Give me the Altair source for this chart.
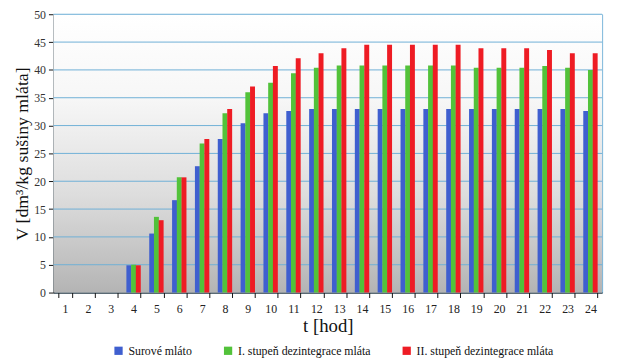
import altair as alt
import pandas as pd

hours = list(range(1, 25))
series_names = ["Surové mláto", "I. stupeň dezintegrace mláta", "II. stupeň dezintegrace mláta"]
surove = [0, 0, 0, 4.9, 10.6, 16.6, 22.7, 27.6, 30.4, 32.2, 32.6, 33.0, 33.0, 33.0, 33.0, 33.0, 33.0, 33.0, 33.0, 33.0, 33.0, 33.0, 33.0, 32.6]
stupen1 = [0, 0, 0, 5.0, 13.6, 20.7, 26.8, 32.2, 36.0, 37.7, 39.4, 40.4, 40.8, 40.8, 40.8, 40.8, 40.8, 40.8, 40.4, 40.4, 40.4, 40.7, 40.4, 40.0]
stupen2 = [0, 0, 0, 4.9, 13.0, 20.7, 27.6, 33.0, 37.0, 40.7, 42.1, 43.0, 43.9, 44.5, 44.5, 44.5, 44.5, 44.5, 43.9, 43.9, 43.9, 43.6, 43.0, 43.0]
colors = ["#3f5fcf", "#52c23a", "#ee1c24"]
y_ticks = list(range(0, 51, 5))

rows = []
for name, vals in zip(series_names, [surove, stupen1, stupen2]):
    for h, v in zip(hours, vals):
        rows.append({"hour": h, "series": name, "value": v})
df = pd.DataFrame(rows)
grid_df = pd.DataFrame({"tick": y_ticks[1:]})

W, H = 556, 282
FONT = "Liberation Serif"

bg = alt.Chart(pd.DataFrame({"a": [0]})).mark_rect(
    color=alt.Gradient(
        gradient="linear", x1=0, x2=0, y1=0, y2=1,
        stops=[alt.GradientStop(color="#ffffff", offset=0),
               alt.GradientStop(color="#f7f7f7", offset=0.3),
               alt.GradientStop(color="#dddddd", offset=0.65),
               alt.GradientStop(color="#b4b4b4", offset=1)]
    )
).encode(x=alt.value(0), x2=alt.value(W), y=alt.value(0), y2=alt.value(H))

yscale = alt.Scale(domain=[0, 50], nice=False)
yaxis = alt.Axis(values=y_ticks, labelFont=FONT, labelFontSize=12, labelColor="#333",
                 labelPadding=3,
                 titleFont=FONT, titleFontSize=18, titleFontWeight="normal",
                 titleColor="#111", titlePadding=2, grid=False,
                 domainColor="#111", tickColor="#111", tickSize=5)
ytitle = "V [dm³/kg sušiny mláta]"

grid = alt.Chart(grid_df).mark_rule(color="#6fb0d6", strokeWidth=1).encode(
    y=alt.Y("tick:Q", scale=yscale, axis=yaxis, title=ytitle)
)

bars = alt.Chart(df).mark_bar(size=5).encode(
    x=alt.X("hour:O", title="t [hod]",
            scale=alt.Scale(paddingInner=0.38, paddingOuter=0.2),
            axis=alt.Axis(labelAngle=0, labelFont=FONT, labelFontSize=12, labelColor="#222",
                          titleFont=FONT, titleFontSize=19, titleFontWeight="normal",
                          titleColor="#111", titlePadding=2, labelPadding=6,
                          domainColor="#111", tickColor="#111", tickBand="extent",
                          tickSize=5, grid=False)),
    xOffset=alt.XOffset("series:N", sort=series_names),
    y=alt.Y("value:Q", title=ytitle, scale=yscale, axis=yaxis),
    color=alt.Color("series:N", sort=series_names,
                    scale=alt.Scale(domain=series_names, range=colors),
                    legend=alt.Legend(title=None, orient="none", direction="horizontal",
                                      legendX=60, legendY=335,
                                      symbolType="square", symbolSize=70,
                                      symbolStrokeWidth=0, labelFont=FONT, labelFontSize=12,
                                      labelColor="#111", columnPadding=30, labelLimit=300)),
)

chart = alt.layer(bg, grid, bars).properties(
    width=W, height=H,
    autosize=alt.AutoSizeParams(type="none"),
    padding={"left": 46, "top": 4, "right": 8, "bottom": 66},
).configure_view(stroke="#6fb0d6", strokeWidth=1).configure_axis(domainWidth=1)

chart.save("out.html", embed_options={"renderer": "svg", "actions": False})
